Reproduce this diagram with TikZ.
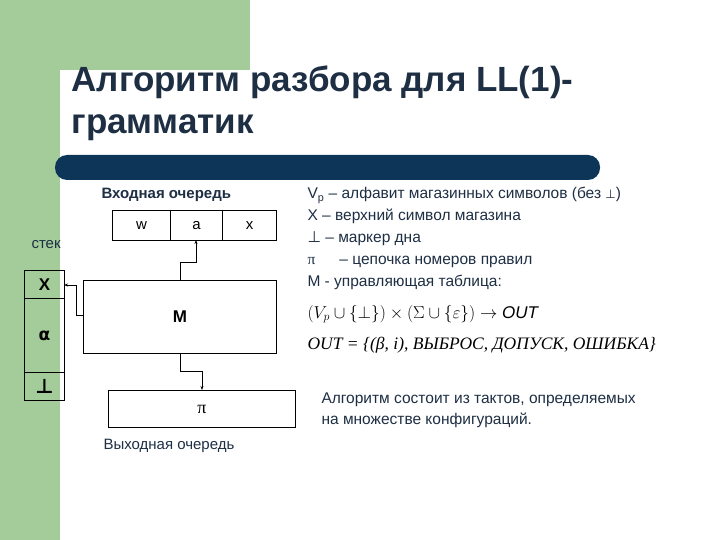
\documentclass[tikz,border=0pt]{standalone}
\usepackage{fontspec}
\setmainfont{Liberation Sans}
\newfontfamily\serifc{Liberation Serif}
\newfontfamily\dejav{DejaVu Sans}
\usetikzlibrary{arrows.meta}
\definecolor{sgreen}{HTML}{A3CC9A}
\definecolor{sblue}{HTML}{0D3557}
\definecolor{ttl}{HTML}{1E2F44}
\tikzset{cell/.style={draw,line width=1pt,inner sep=0pt,anchor=north west,font=\fontsize{15}{17}\selectfont},
 conn/.style={line width=1pt,-{Stealth[length=4pt]}},
 lbl/.style={font=\fontsize{15}{17}\selectfont,anchor=west,text=ttl}}
\begin{document}
\begin{tikzpicture}[x=1pt,y=-1pt]
\useasboundingbox (0,0) rectangle (720,540);
\fill[sgreen] (0,0) rectangle (250,70);
\fill[sgreen] (0,0) rectangle (60,540);
\fill[white] (60,95) arc[start angle=180,end angle=90,radius=30] -- (720,65) -- (720,540) -- (60,540) -- cycle;
\fill[sblue,rounded corners=12pt] (55,155) rectangle (600,180);
\node[anchor=north west,align=left,text=ttl,font=\bfseries\fontsize{35}{42}\selectfont] (title) at (68,62) {Алгоритм разбора для LL(1)-\\грамматик};
% input queue
\node[lbl,font=\bfseries\fontsize{15}{17}\selectfont] (inq) at (98,195) {Входная очередь};
\node[cell,minimum width=58pt,minimum height=30pt] (w) at (112,210) {w};
\node[cell,minimum width=52pt,minimum height=30pt] (a) at (170,210) {a};
\node[cell,minimum width=54pt,minimum height=30pt] (x) at (222,210) {x};
\node[lbl] (stek) at (28,245) {стек};
\node[cell,minimum width=40pt,minimum height=28pt,font=\bfseries\fontsize{17}{19}\selectfont] (X) at (24,270) {X};
\node[cell,minimum width=40pt,minimum height=74pt,font=\bfseries\dejav\fontsize{17}{19}\selectfont] (al) at (24,298) {α};
\node[cell,minimum width=40pt,minimum height=28pt,font=\bfseries\dejav\fontsize{20}{22}\selectfont] (bot) at (24,372) {⊥};
\node[cell,minimum width=193pt,minimum height=73pt,font=\bfseries\fontsize{17}{19}\selectfont] (M) at (83,280) {M};
\node[cell,minimum width=187pt,minimum height=37pt,font=\serifc\fontsize{18}{20}\selectfont] (pi) at (108,390) {π};
\node[lbl] (outq) at (100,446) {Выходная очередь};
\draw[conn] (180,280) -- (180,262) -- (196,262) -- (196,240);
\draw[conn] (83,315) -- (76,315) -- (76,285) -- (64,285);
\draw[conn] (180,353) -- (180,371) -- (202,371) -- (202,390);
% right text
\node[anchor=north west,align=left,font=\fontsize{15.5}{21.8}\selectfont,text=ttl] (desc) at (304,184) {V\textsubscript{p} – алфавит магазинных символов (без {\dejav\large ⊥})\\X – верхний символ магазина\\{\dejav ⊥} – маркер дна\\{\serifc π}\quad\ \ – цепочка номеров правил\\M - управляющая таблица:};
\node[anchor=west,font=\serifc\fontsize{17}{19}\selectfont] (f1) at (304,314) {$(V_p\cup\{\bot\})\times(\Sigma\cup\{\varepsilon\})\rightarrow \mathit{OUT}$};
\node[anchor=west,font=\serifc\itshape\fontsize{17.5}{19}\selectfont] (f2) at (304,345) {OUT = \{(β, i), ВЫБРОС, ДОПУСК, ОШИБКА\}};
\node[anchor=north west,align=left,font=\fontsize{15.5}{21}\selectfont,text=ttl] (alg) at (318,389) {Алгоритм состоит из тактов, определяемых\\на множестве конфигураций.};
\end{tikzpicture}
\end{document}
